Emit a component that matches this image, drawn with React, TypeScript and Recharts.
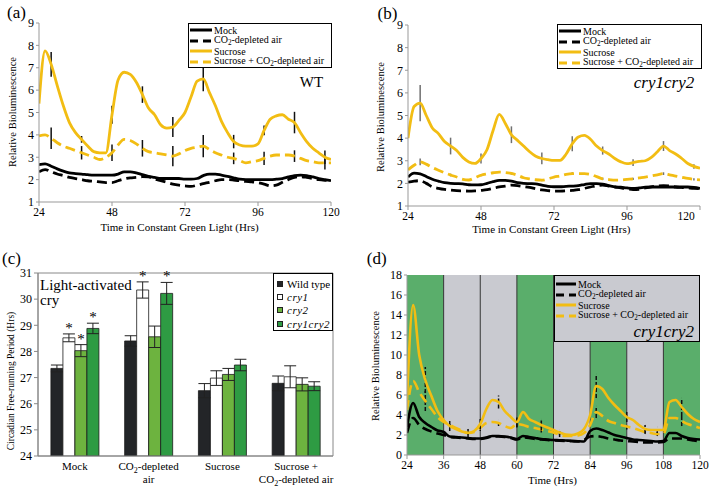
import React from "react";
import {
  LineChart,
  Line,
  BarChart,
  Bar,
  XAxis,
  YAxis,
  ErrorBar,
  LabelList,
  ReferenceArea,
  ReferenceLine,
} from "recharts";

const SERIF = "'Liberation Serif', 'DejaVu Serif', 'Times New Roman', serif";
const YELLOW = "#f2bd13";

// sampling times (every 2 h), shared by panels a, b, d
const hours = [
  24, 26, 28, 30, 32, 34, 36, 38, 40, 42,
  44, 46, 48, 50, 52, 54, 56, 58, 60, 62,
  64, 66, 68, 70, 72, 74, 76, 78, 80, 82,
  84, 86, 88, 90, 92, 94, 96, 98, 100, 102,
  104, 106, 108, 110, 112, 114, 116, 118, 120,
];

// (a) WT, constant green light
const wtMock = [
  2.67, 2.7, 2.6, 2.48, 2.38, 2.3, 2.27, 2.25, 2.22, 2.2,
  2.2, 2.2, 2.2, 2.25, 2.35, 2.35, 2.3, 2.22, 2.15, 2.1,
  2.05, 2.05, 2.05, 2.05, 2.02, 2.02, 2.05, 2.18, 2.25, 2.25,
  2.2, 2.15, 2.08, 2.02, 2.0, 2.0, 2.0, 2.0, 2.0, 2.02,
  2.05, 2.12, 2.18, 2.2, 2.18, 2.12, 2.05, 2.0, 1.95,
];
const wtCo2 = [
  2.35, 2.45, 2.35, 2.25, 2.18, 2.1, 2.05, 2.0, 1.95, 1.93,
  1.9, 1.87, 1.87, 1.95, 2.03, 2.08, 2.1, 2.13, 2.12, 2.02,
  1.95, 1.88, 1.8, 1.75, 1.72, 1.7, 1.75, 1.82, 1.88, 1.95,
  2.0, 2.0, 1.98, 1.95, 1.92, 1.9, 1.86, 1.8, 1.72, 1.75,
  1.88, 2.0, 2.1, 2.13, 2.1, 2.05, 2.0, 1.97, 1.95,
];
const wtSuc = [
  5.4, 7.75, 7.15, 6.2, 5.3, 4.55, 4.1, 3.8, 3.5, 3.25,
  3.2, 3.2, 4.9, 6.45, 6.8, 6.7, 6.35, 5.8, 5.2, 4.9,
  4.45, 4.3, 4.35, 4.65, 5.0, 5.7, 6.4, 6.5, 5.9, 5.3,
  4.6, 4.1, 3.7, 3.55, 3.5, 3.5, 3.6, 4.2, 4.7, 4.85,
  4.9, 4.7, 4.55, 4.1, 3.7, 3.4, 3.2, 3.0, 2.9,
];
const wtSucCo2 = [
  3.95, 4.0, 3.85, 3.65, 3.5, 3.4, 3.3, 3.2, 3.1, 3.0,
  2.9, 3.0, 3.2, 3.55, 3.8, 3.75, 3.6, 3.4, 3.25, 3.2,
  3.15, 3.1, 3.05, 3.15, 3.3, 3.4, 3.45, 3.5, 3.35, 3.2,
  3.1, 3.0, 2.95, 2.85, 2.75, 2.8, 2.85, 2.95, 3.05, 3.1,
  3.1, 3.1, 3.05, 2.95, 2.85, 2.8, 2.75, 2.75, 2.75,
];
const errHours = [28, 38, 48, 58, 68, 78, 88, 98, 108, 118];
const wtSucErr = [0.55, 0.15, 0.4, 0.37, 0.45, 0.55, 0.3, 0.22, 0.48, 0.3];
const wtSucCo2Err = [0.48, 0.3, 0.37, 0.37, 0.45, 0.5, 0.26, 0.3, 0.26, 0.3];

// (b) cry1cry2, constant green light
const cryMock = [
  2.28, 2.45, 2.42, 2.3, 2.18, 2.1, 2.03, 2.0, 1.99, 1.98,
  1.94, 1.93, 1.94, 2.0, 2.08, 2.13, 2.13, 2.1, 2.03, 2.0,
  1.99, 1.98, 1.92, 1.87, 1.85, 1.85, 1.87, 1.88, 1.9, 1.95,
  1.99, 1.99, 1.97, 1.9, 1.85, 1.83, 1.8, 1.78, 1.8, 1.83,
  1.84, 1.84, 1.84, 1.84, 1.84, 1.84, 1.84, 1.82, 1.78,
];
const cryCo2 = [
  2.05, 2.1, 2.12, 2.0, 1.85, 1.78, 1.73, 1.7, 1.68, 1.67,
  1.66, 1.67, 1.69, 1.72, 1.78, 1.84, 1.88, 1.92, 1.9, 1.86,
  1.82, 1.76, 1.71, 1.68, 1.66, 1.66, 1.67, 1.69, 1.72, 1.78,
  1.84, 1.9, 1.92, 1.88, 1.84, 1.8, 1.76, 1.73, 1.74, 1.8,
  1.85, 1.88, 1.9, 1.88, 1.84, 1.82, 1.8, 1.78, 1.77,
];
const crySuc = [
  4.0, 5.4, 5.55, 5.0, 4.45, 4.2, 3.85, 3.65, 3.45, 3.15,
  2.95, 2.88, 3.1, 3.5, 4.35, 5.05, 4.65, 4.15, 3.9, 3.65,
  3.4, 3.2, 3.1, 3.05, 3.02, 3.02, 3.3, 3.75, 4.05, 4.12,
  3.95, 3.65, 3.45, 3.3, 3.1, 2.95, 2.87, 2.92, 2.97, 3.0,
  3.15, 3.4, 3.65, 3.45, 3.3, 3.1, 2.88, 2.75, 2.67,
];
const crySucCo2 = [
  2.6, 2.8, 2.95, 2.85, 2.7, 2.58, 2.47, 2.37, 2.28, 2.18,
  2.15, 2.25, 2.36, 2.42, 2.47, 2.5, 2.48, 2.44, 2.36, 2.25,
  2.2, 2.16, 2.14, 2.2, 2.28, 2.33, 2.4, 2.43, 2.43, 2.43,
  2.4, 2.3, 2.2, 2.17, 2.14, 2.15, 2.18, 2.2, 2.24, 2.28,
  2.33, 2.38, 2.43, 2.38, 2.32, 2.27, 2.22, 2.18, 2.15,
];
const crySucErr = [0.8, 0.37, 0.22, 0.37, 0.26, 0.33, 0.18, 0.15, 0.22, 0.1];
const crySucCo2Err = [0.15, 0.06, 0.05, 0.06, 0.05, 0.06, 0.05, 0.05, 0.06, 0.05];

// (d) cry1cry2, light/dark cycles
const cycMock = [
  2.8, 5.2, 3.8, 3.2, 2.8, 2.45, 2.3, 1.85, 1.8, 1.75,
  1.7, 1.65, 1.65, 1.75, 1.9, 1.9, 1.85, 1.75, 1.6, 1.9,
  1.8, 1.7, 1.6, 1.55, 1.5, 1.48, 1.45, 1.42, 1.38, 1.35,
  2.4, 2.65, 2.5, 2.25, 2.0, 1.85, 1.7, 1.55, 1.5, 1.45,
  1.4, 1.35, 1.4, 2.2, 2.2, 1.9, 1.7, 1.6, 1.55,
];
const cycCo2 = [
  2.2, 3.7, 3.0, 2.6, 2.35, 2.15, 2.0, 1.8, 1.75, 1.7,
  1.65, 1.6, 1.6, 1.7, 1.85, 1.85, 1.8, 1.7, 1.55, 1.75,
  1.7, 1.6, 1.55, 1.5, 1.45, 1.42, 1.4, 1.38, 1.35, 1.5,
  1.85, 1.9, 1.8, 1.65, 1.55, 1.45, 1.4, 1.35, 1.3, 1.25,
  1.25, 1.25, 1.3, 1.65, 1.65, 1.65, 1.55, 1.45, 1.35,
];
const cycSuc = [
  5.5, 15.0, 10.0, 7.5, 5.9, 4.4, 3.5, 2.9, 2.6, 2.35,
  2.2, 2.4, 3.1, 4.6, 5.5, 5.3, 4.4, 3.8, 3.3, 4.3,
  3.6, 3.3, 3.0, 2.75, 2.5, 2.25, 2.05, 2.0, 2.15, 2.6,
  4.0, 6.9, 6.6, 5.7, 5.0, 4.4, 3.8, 3.5, 3.0, 2.6,
  2.5, 2.5, 2.5, 5.3, 5.5, 4.8, 4.1, 3.6, 3.3,
];
const cycSucCo2 = [
  4.5, 7.4, 6.3, 5.4, 4.6, 3.8, 3.3, 3.0, 2.7, 2.45,
  2.2, 2.3, 2.7, 3.2, 3.3, 3.2, 2.9, 2.7, 3.1, 3.0,
  2.8, 2.7, 2.55, 2.4, 2.25, 2.0, 1.9, 1.9, 1.95, 2.2,
  3.0, 4.3, 3.9, 3.4, 3.2, 3.0, 2.85, 2.7, 2.5, 2.3,
  2.2, 2.1, 2.1, 3.7, 3.7, 3.4, 3.1, 2.9, 2.7,
];
const cycErrHours = [30, 38, 44, 48, 54, 60, 68, 74, 86, 96, 102, 106, 114];
const cycSucErr = [1.3, 0.5, 0.4, 0.5, 0.65, 0.55, 0.55, 0.25, 1.2, 0.5, 0.4, 0.3, 0.9];
const cycSucCo2Err = [1.0, 0.3, 0.2, 0.3, 0.3, 0.3, 0.3, 0.2, 0.6, 0.3, 0.2, 0.2, 0.5];

// light regime of (d): 12 h blocks
const phaseStart = [24, 36, 48, 60, 72, 84, 96, 108];
const phaseGreen = [true, false, false, true, false, true, false, true];

// (c) free-running period
const conditions = ["Mock", "CO2-depleted\nair", "Sucrose", "Sucrose +\nCO2-depleted air"];
const periodWT = [27.35, 28.4, 26.5, 26.78];
const periodCry1 = [28.52, 30.35, 26.98, 27.03];
const periodCry2 = [28.03, 28.56, 27.12, 26.74];
const periodCry12 = [28.88, 30.22, 27.48, 26.67];
const errWT = [0.13, 0.2, 0.27, 0.28];
const errCry1 = [0.15, 0.31, 0.28, 0.42];
const errCry2 = [0.23, 0.41, 0.23, 0.25];
const errCry12 = [0.2, 0.42, 0.22, 0.17];
const sigCry1 = [true, true, false, false];
const sigCry2 = [true, false, false, false];
const sigCry12 = [true, true, false, false];

const lineSeries = [
  { key: "mock", name: "Mock", color: "#000", dashed: false },
  { key: "co2", name: "CO2-depleted air", color: "#000", dashed: true },
  { key: "suc", name: "Sucrose", color: YELLOW, dashed: false },
  { key: "sucCo2", name: "Sucrose + CO2-depleted air", color: YELLOW, dashed: true },
];

const barSeries = [
  { key: "wt", err: "wtErr", name: "Wild type", fill: "#232528", italic: false, sig: null as boolean[] | null, errs: errWT },
  { key: "cry1", err: "cry1Err", name: "cry1", fill: "#ffffff", italic: true, sig: sigCry1, errs: errCry1 },
  { key: "cry2", err: "cry2Err", name: "cry2", fill: "#6db33f", italic: true, sig: sigCry2, errs: errCry2 },
  { key: "cry12", err: "cry12Err", name: "cry1cry2", fill: "#2e9b43", italic: true, sig: sigCry12, errs: errCry12 },
];

const errAt = (hrs: number[], vals: number[], h: number) => {
  const i = hrs.indexOf(h);
  return i < 0 ? undefined : vals[i];
};

const buildTable = (
  mock: number[], co2: number[], suc: number[], sucCo2: number[],
  eh: number[], sucErr: number[], sucCo2Err: number[]
) =>
  hours.map((h, i) => ({
    h,
    mock: mock[i],
    co2: co2[i],
    suc: suc[i],
    sucCo2: sucCo2[i],
    sucErr: errAt(eh, sucErr, h),
    sucCo2Err: errAt(eh, sucCo2Err, h),
  }));

const tableA = buildTable(wtMock, wtCo2, wtSuc, wtSucCo2, errHours, wtSucErr, wtSucCo2Err);
const tableB = buildTable(cryMock, cryCo2, crySuc, crySucCo2, errHours, crySucErr, crySucCo2Err);
const tableD = buildTable(cycMock, cycCo2, cycSuc, cycSucCo2, cycErrHours, cycSucErr, cycSucCo2Err);

const tableC = conditions.map((c, i) => ({
  name: c,
  wt: periodWT[i],
  cry1: periodCry1[i],
  cry2: periodCry2[i],
  cry12: periodCry12[i],
  wtErr: errWT[i],
  cry1Err: errCry1[i],
  cry2Err: errCry2[i],
  cry12Err: errCry12[i],
}));

// "CO2" with a subscript 2, html version
function co2Html(text: string) {
  const parts = text.split("CO2");
  return parts.map((p, i) => (
    <React.Fragment key={i}>
      {i > 0 && (
        <>
          CO<span style={{ fontSize: "0.72em", position: "relative", top: 2 }}>2</span>
        </>
      )}
      {p}
    </React.Fragment>
  ));
}

// same thing inside svg text
function co2Svg(text: string) {
  const parts = text.split("CO2");
  return parts.map((p, i) => (
    <React.Fragment key={i}>
      {i > 0 && (
        <>
          <tspan>CO</tspan>
          <tspan dy={3} fontSize={8}>2</tspan>
          <tspan dy={-3}>{p}</tspan>
        </>
      )}
      {i === 0 && p}
    </React.Fragment>
  ));
}

function Caption({ x, y, size, rotate, italic, children }: any) {
  return (
    <div
      style={{
        position: "absolute",
        left: x,
        top: y,
        transform: `translate(-50%, -50%)${rotate ? " rotate(-90deg)" : ""}`,
        fontSize: size,
        lineHeight: 1,
        whiteSpace: "nowrap",
        fontStyle: italic ? "italic" : undefined,
      }}
    >
      {children}
    </div>
  );
}

function LineKey({ left, top, width, height, bg, padTop, sample, note }: any) {
  return (
    <div
      style={{
        position: "absolute",
        left,
        top,
        width,
        height,
        boxSizing: "border-box",
        border: "1px solid #000",
        background: bg,
        paddingTop: padTop,
        paddingLeft: 1,
        fontSize: 10,
      }}
    >
      {lineSeries.map((s) => (
        <div key={s.key} style={{ display: "flex", alignItems: "center", height: 10.5, whiteSpace: "nowrap" }}>
          <svg width={sample} height={6} style={{ flex: "none" }}>
            <line
              x1={0}
              y1={3}
              x2={sample}
              y2={3}
              stroke={s.color}
              strokeWidth={3}
              strokeDasharray={s.dashed ? "8 5" : undefined}
            />
          </svg>
          <span style={{ marginLeft: 2, lineHeight: "9px" }}>{co2Html(s.name)}</span>
        </div>
      ))}
      {note && (
        <div style={{ position: "absolute", right: 5, bottom: 1, fontStyle: "italic", fontSize: 17, lineHeight: "17px" }}>
          {note}
        </div>
      )}
    </div>
  );
}

interface LinePanelProps {
  data: any[];
  left: number;
  top: number;
  width: number;
  height: number;
  margin: { top: number; right: number; bottom: number; left: number };
  yWidth: number;
  xHeight: number;
  yDomain: [number, number];
  yTicks: number[];
  xTicks: number[];
  errColor: string;
  errDash?: string;
  lineWidth: number;
  lastTickShift?: number;
  children?: React.ReactNode;
}

function LinePanel(p: LinePanelProps) {
  return (
    <div style={{ position: "absolute", left: p.left, top: p.top }}>
      <LineChart width={p.width} height={p.height} data={p.data} margin={p.margin}>
        {p.children}
        <XAxis
          dataKey="h"
          type="number"
          domain={[24, 120]}
          ticks={p.xTicks}
          interval={0}
          allowDataOverflow
          height={p.xHeight}
          stroke="#999"
          tickSize={4}
          tickMargin={2}
          tick={(t: any) => (
            <text
              x={t.x + (t.payload.value === 120 ? p.lastTickShift || 0 : 0)}
              y={t.y}
              dy="0.71em"
              textAnchor="middle"
              fontSize={11.5}
              fontFamily={SERIF}
              fill="#000"
            >
              {t.payload.value}
            </text>
          )}
        />
        <YAxis
          type="number"
          domain={p.yDomain}
          ticks={p.yTicks}
          interval={0}
          allowDataOverflow
          width={p.yWidth}
          stroke="#999"
          tickSize={3}
          tickMargin={2}
          tick={{ fontSize: 12, fill: "#000", fontFamily: SERIF }}
        />
        <Line type="monotone" dataKey="co2" stroke="#000" strokeWidth={p.lineWidth} strokeDasharray="10 5" dot={false} activeDot={false} isAnimationActive={false} />
        <Line type="monotone" dataKey="mock" stroke="#000" strokeWidth={p.lineWidth} dot={false} activeDot={false} isAnimationActive={false} />
        <Line type="monotone" dataKey="sucCo2" stroke={YELLOW} strokeWidth={p.lineWidth} strokeDasharray="10 5" dot={false} activeDot={false} isAnimationActive={false}>
          <ErrorBar dataKey="sucCo2Err" width={0} stroke={p.errColor} strokeWidth={1.5} strokeDasharray={p.errDash} />
        </Line>
        <Line type="monotone" dataKey="suc" stroke={YELLOW} strokeWidth={p.lineWidth} dot={false} activeDot={false} isAnimationActive={false}>
          <ErrorBar dataKey="sucErr" width={0} stroke={p.errColor} strokeWidth={1.5} strokeDasharray={p.errDash} />
        </Line>
      </LineChart>
    </div>
  );
}

function ConditionTick({ x, y, payload }: any) {
  const lines = String(payload.value).split("\n");
  return (
    <text x={x} y={y} textAnchor="middle" fontSize={11} fontFamily={SERIF} fill="#000">
      {lines.map((ln, i) => (
        <tspan key={i} x={x} dy={i === 0 ? 14 : 13}>
          {co2Svg(ln)}
        </tspan>
      ))}
    </text>
  );
}

const PLOT_C_H = 183; // px between 24 and 31 in panel c

const starContent = (sig: boolean[], errs: number[]) => (props: any) => {
  const i = props.index;
  if (!sig || !sig[i]) return null;
  const vb = props.viewBox || props;
  const errPx = (errs[i] * PLOT_C_H) / 7;
  return (
    <text
      x={vb.x + vb.width / 2}
      y={vb.y - errPx - 1}
      textAnchor="middle"
      fontSize={15}
      fontFamily={SERIF}
      fill="#000"
      style={{ fill: "#000" }}
    >
      *
    </text>
  );
};

function BarKey() {
  return (
    <div
      style={{
        position: "absolute",
        left: 273,
        top: 273,
        width: 60,
        height: 58,
        boxSizing: "border-box",
        border: "1px solid #000",
        background: "#fff",
        paddingTop: 3,
        paddingLeft: 3,
        fontSize: 11,
      }}
    >
      {barSeries.map((s) => (
        <div key={s.key} style={{ display: "flex", alignItems: "center", height: 13.3, whiteSpace: "nowrap" }}>
          <span style={{ width: 6, height: 6, border: "1px solid #222", background: s.fill, flex: "none", boxSizing: "border-box" }} />
          <span style={{ marginLeft: 4, fontStyle: s.italic ? "italic" : undefined, letterSpacing: s.italic ? 0.5 : 0 }}>{s.name}</span>
        </div>
      ))}
    </div>
  );
}

export default function App() {
  return (
    <div
      style={{
        position: "fixed",
        left: 0,
        top: 0,
        width: 709,
        height: 487,
        background: "#fff",
        overflow: "hidden",
        fontFamily: SERIF,
        color: "#000",
      }}
    >
      {/* (a) WT */}
      <LinePanel
        data={tableA}
        left={0}
        top={0}
        width={345}
        height={240}
        margin={{ top: 23, right: 14, bottom: 14, left: 0 }}
        yWidth={39}
        xHeight={24}
        yDomain={[1, 9]}
        yTicks={[1, 2, 3, 4, 5, 6, 7, 8, 9]}
        xTicks={[24, 48, 72, 96, 120]}
        errColor="#111"
        lineWidth={2.8}
      />

      {/* (b) cry1cry2 */}
      <LinePanel
        data={tableB}
        left={355}
        top={0}
        width={354}
        height={240}
        margin={{ top: 25, right: 9, bottom: 10, left: 0 }}
        yWidth={53}
        xHeight={24}
        yDomain={[1, 9]}
        yTicks={[1, 2, 3, 4, 5, 6, 7, 8, 9]}
        xTicks={[24, 48, 72, 96, 120]}
        errColor="#707070"
        lineWidth={2.8}
        lastTickShift={-14}
      />

      {/* (c) period */}
      <div style={{ position: "absolute", left: 0, top: 240 }}>
        <BarChart
          width={345}
          height={247}
          data={tableC}
          margin={{ top: 33, right: 12, bottom: 0, left: 0 }}
          barCategoryGap="17.5%"
          barGap={0}
        >
          <ReferenceArea y1={24} y2={31} fill="none" stroke="#888" strokeWidth={1} />
          <XAxis dataKey="name" height={31} stroke="#888" tickLine={false} tickSize={0} tickMargin={0} interval={0} tick={<ConditionTick />} />
          <YAxis
            type="number"
            domain={[24, 31]}
            ticks={[24, 25, 26, 27, 28, 29, 30, 31]}
            interval={0}
            allowDataOverflow
            width={38}
            stroke="#888"
            tickSize={4}
            tickMargin={2}
            tick={{ fontSize: 12, fill: "#000", fontFamily: SERIF }}
          />
          {barSeries.map((s) => (
            <Bar key={s.key} dataKey={s.key} fill={s.fill} stroke="#1a1a1a" strokeWidth={0.8} isAnimationActive={false}>
              <ErrorBar dataKey={s.err} width={6} stroke="#222" strokeWidth={1} />
              {s.sig && <LabelList dataKey={s.key} content={starContent(s.sig, s.errs)} />}
            </Bar>
          ))}
        </BarChart>
      </div>

      {/* (d) cry1cry2 under cycles */}
      <LinePanel
        data={tableD}
        left={355}
        top={240}
        width={354}
        height={247}
        margin={{ top: 35, right: 9, bottom: 0, left: 0 }}
        yWidth={52}
        xHeight={32}
        yDomain={[0, 18]}
        yTicks={[0, 2, 4, 6, 8, 10, 12, 14, 16, 18]}
        xTicks={[24, 36, 48, 60, 72, 84, 96, 108, 120]}
        errColor="#111"
        errDash="4 2"
        lineWidth={2.6}
      >
        {phaseStart.map((s, i) => (
          <ReferenceArea
            key={`band-${s}`}
            x1={s}
            x2={s + 12}
            y1={0}
            y2={18}
            fill={phaseGreen[i] ? "#5aae6b" : "#c9cad0"}
            fillOpacity={1}
            stroke="none"
          />
        ))}
        {phaseStart.slice(1).map((s) => (
          <ReferenceLine key={`edge-${s}`} x={s} stroke="#333" strokeWidth={1} />
        ))}
      </LinePanel>

      {/* legends */}
      <LineKey left={188} top={23} width={144} height={45} bg="#fff" padTop={1} sample={22} />
      <LineKey left={557} top={24} width={145} height={45} bg="#fff" padTop={1} sample={22} />
      <BarKey />
      <LineKey left={554} top={275} width={146} height={67} bg="#c9cad0" padTop={3} sample={20} note="cry1cry2" />

      {/* panel letters and titles */}
      <Caption x={16.5} y={11.5} size={17}>(a)</Caption>
      <Caption x={387.5} y={12.5} size={17}>(b)</Caption>
      <Caption x={11.5} y={257.5} size={17}>(c)</Caption>
      <Caption x={376.7} y={258.3} size={17}>(d)</Caption>

      <Caption x={311.5} y={82} size={15}>WT</Caption>
      <Caption x={664} y={81.5} size={17} italic>cry1cry2</Caption>

      <Caption x={13} y={112} size={10.5} rotate>Relative Bioluminescence</Caption>
      <Caption x={381} y={116.7} size={10.5} rotate>Relative Bioluminescence</Caption>
      <Caption x={11.7} y={381} size={9.5} rotate>Circadian Free-running Period (Hrs)</Caption>
      <Caption x={375.7} y={365.5} size={10.5} rotate>Relative Bioluminescence</Caption>

      <Caption x={179.5} y={226.5} size={11}>Time in Constant Green Light (Hrs)</Caption>
      <Caption x={551.3} y={229} size={11}>Time in Constant Green Light (Hrs)</Caption>
      <Caption x={552.5} y={480} size={11}>Time (Hrs)</Caption>

      <div style={{ position: "absolute", left: 40, top: 278.4, fontSize: 15, lineHeight: "15px", whiteSpace: "nowrap" }}>
        Light-activated
        <br />
        cry
      </div>
    </div>
  );
}
